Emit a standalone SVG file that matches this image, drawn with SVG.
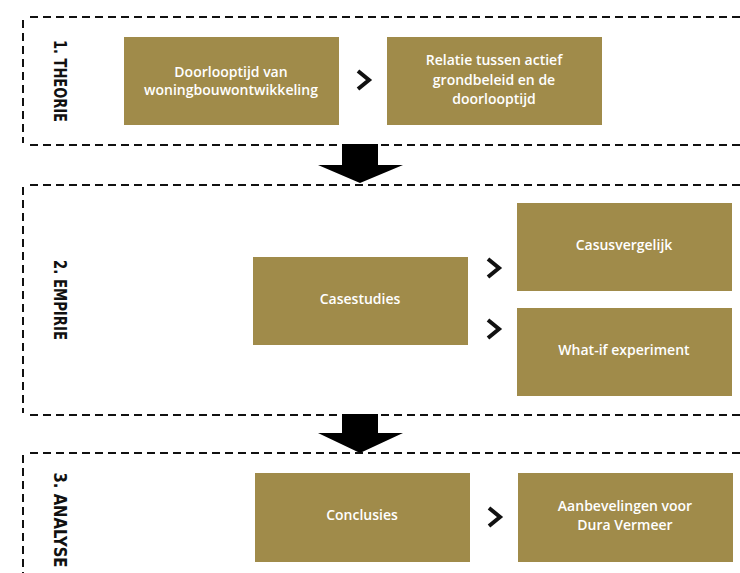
<svg xmlns="http://www.w3.org/2000/svg" width="740" height="573" viewBox="0 0 740 573">
<style>
.dash{stroke:#111;stroke-width:2;stroke-dasharray:8,5;fill:none}
.box{fill:#A08B4A}
.bt{fill:#fff;font-family:"Open Sans","Liberation Sans",sans-serif;font-weight:600;font-size:14px;text-anchor:middle}
.lab{fill:#111;font-family:"DejaVu Sans Condensed","Liberation Sans",sans-serif;font-weight:bold;font-size:17px;text-anchor:middle}
.chev{fill:none;stroke:#111;stroke-width:4;stroke-linejoin:miter}
.big{fill:#000}
</style>
<rect width="740" height="573" fill="#fff"/>
<g id="frames">
<line class="dash" x1="30" y1="17" x2="740" y2="17"/>
<line class="dash" x1="30" y1="145" x2="740" y2="145"/>
<line class="dash" x1="30" y1="185" x2="740" y2="185"/>
<line class="dash" x1="30" y1="415" x2="740" y2="415"/>
<line class="dash" x1="30" y1="453" x2="740" y2="453"/>
<line class="dash" x1="23" y1="20" x2="23" y2="143"/>
<line class="dash" x1="23" y1="187" x2="23" y2="413"/>
<line class="dash" x1="23" y1="455" x2="23" y2="573"/>
</g>
<g id="labels">
<text class="lab" transform="translate(54,81) rotate(90)" textLength="82" lengthAdjust="spacingAndGlyphs">1. THEORIE</text>
<text class="lab" transform="translate(54,300) rotate(90)" textLength="80" lengthAdjust="spacingAndGlyphs">2. EMPIRIE</text>
<text class="lab" transform="translate(54,520) rotate(90)" textLength="95" lengthAdjust="spacingAndGlyphs">3. ANALYSE</text>
</g>
<g id="n1">
<rect class="box" x="124" y="37" width="215" height="88"/>
<text class="bt" x="231" y="77">Doorlooptijd van</text>
<text class="bt" x="231" y="95">woningbouwontwikkeling</text>
</g>
<g id="n2">
<rect class="box" x="387" y="37" width="215" height="88"/>
<text class="bt" x="494" y="65">Relatie tussen actief</text>
<text class="bt" x="494" y="85">grondbeleid en de</text>
<text class="bt" x="494" y="104">doorlooptijd</text>
</g>
<g id="n3">
<rect class="box" x="253" y="257" width="215" height="88"/>
<text class="bt" x="360" y="304">Casestudies</text>
</g>
<g id="n4">
<rect class="box" x="517" y="203" width="215" height="88"/>
<text class="bt" x="624" y="250">Casusvergelijk</text>
</g>
<g id="n5">
<rect class="box" x="517" y="308" width="215" height="88"/>
<text class="bt" x="624" y="355">What-if experiment</text>
</g>
<g id="n6">
<rect class="box" x="255" y="473" width="215" height="89"/>
<text class="bt" x="362" y="520">Conclusies</text>
</g>
<g id="n7">
<rect class="box" x="518" y="473" width="215" height="89"/>
<text class="bt" x="625" y="511">Aanbevelingen voor</text>
<text class="bt" x="625" y="530">Dura Vermeer</text>
</g>
<g id="connectors">
<polyline class="chev" points="358,71 369,80 358,89"/>
<polyline class="chev" points="488,259 499,268 488,277"/>
<polyline class="chev" points="488,320 499,329 488,338"/>
<polyline class="chev" points="489,508 500,517 489,526"/>
<polygon class="big" points="342,144 378,144 378,165 403,165 360,183 318,165 342,165"/>
<polygon class="big" points="342,414 378,414 378,433 403,433 360,453 318,433 342,433"/>
</g>
</svg>
